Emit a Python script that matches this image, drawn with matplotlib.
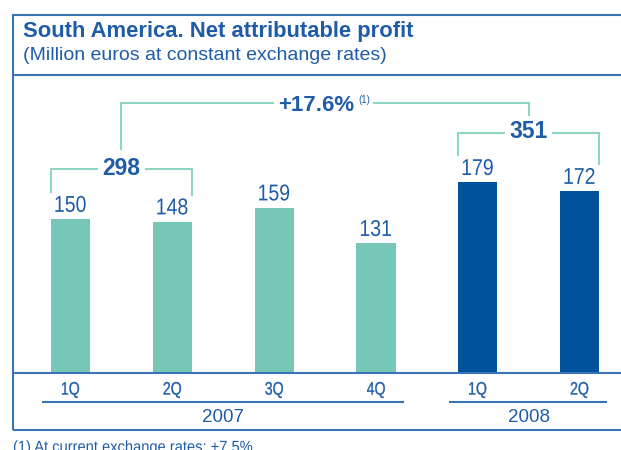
import matplotlib.pyplot as plt
from matplotlib.patches import Rectangle, PathPatch
from matplotlib.lines import Line2D
from matplotlib.textpath import TextPath
from matplotlib.font_manager import FontProperties
from matplotlib.transforms import blended_transform_factory, Affine2D
import numpy as np

# Quarterly net attributable profit, South America (million euros)
quarters = ['1Q', '2Q', '3Q', '4Q', '1Q', '2Q']
years = ['2007', '2007', '2007', '2007', '2008', '2008']
profit = [150, 148, 159, 131, 179, 172]
half_totals = [298, 351]          # 1H07 and 1H08
growth_label = '+17.6%'
footnote = '(1) At current exchange rates: +7.5%.'

teal = '#77c7b8'
navy = '#00529b'
text_blue = '#1f5ca8'
bracket_col = '#8fd5c4'
frame_col = '#3b74b6'

plt.rcParams['font.family'] = ['Liberation Sans', 'DejaVu Sans']

W, H = 621, 450
fig = plt.figure(figsize=(W / 100, H / 100), dpi=100)


def fx(px):
    return px / W


def fy(py):
    return 1 - py / H


def squeezed_text(px, py, s, size, squeeze, ha='center', stroke=0):
    # condensed text: glyph outlines squeezed horizontally, py = middle of the cap height
    size_px = size * 100 / 72
    tp = TextPath((0, 0), s, size=size_px, prop=FontProperties(family='Liberation Sans'))
    ext = tp.get_extents()
    if ha == 'center':
        x0 = -(ext.x0 + ext.x1) / 2 * squeeze
    else:
        x0 = 0
    tr = Affine2D().scale(squeeze, 1).translate(px + x0, py - 0.729 * size_px / 2)
    fig.add_artist(PathPatch(tp, transform=tr, facecolor=text_blue,
                             edgecolor=text_blue if stroke else 'none', lw=stroke))


ax = fig.add_axes([fx(13), fy(373), 1 - fx(13), fy(75) - fy(373)])
x = np.arange(len(profit))
colors = [teal if y == '2007' else navy for y in years]
ax.bar(x, profit, width=0.385, color=colors, zorder=2)
ax.set_xlim(-0.565, -0.565 + (W - 13) / 101.8)
ax.set_ylim(28.7, 263.4)
ax.axis('off')

# value labels
for xi, v in zip(x, profit):
    dx, dy = ax.transData.transform((xi, v))
    squeezed_text(dx, dy + 15.5, str(v), 16.5, 0.85)

# half-year brackets
half_groups = [[0, 1], [4, 5]]
tops = []
hw = 0.385 / 2
for grp, tot in zip(half_groups, half_totals):
    level = max(profit[i] for i in grp) + 39
    xl, xr = grp[0] - hw, grp[-1] + hw
    ax.plot([xl, xl, xr, xr], [profit[grp[0]] + 21, level, level, profit[grp[-1]] + 21],
            color=bracket_col, lw=1.5, solid_joinstyle='miter', zorder=1)
    xm = (grp[0] + grp[-1]) / 2
    ax.text(xm, level + 1, str(tot), ha='center', va='center', fontsize=16.5,
            fontweight='bold', color=text_blue, zorder=3,
            bbox=dict(facecolor='white', edgecolor='none', pad=3))
    tops.append((xm, level))

# growth bracket joining the two half-year totals
g_level = 241
(xa, la), (xb, lb) = tops
ax.plot([xa, xa, xb, xb], [la + 16, g_level, g_level, lb + 10],
        color=bracket_col, lw=1.5, solid_joinstyle='miter', zorder=1)
xg = (xa + xb) / 2
ax.text(xg - 0.09, g_level - 1.5, growth_label, ha='center', va='center', fontsize=16,
        fontweight='bold', color=text_blue, zorder=3,
        bbox=dict(facecolor='white', edgecolor='none', pad=3))
ax.text(xg + 0.39, g_level + 2.5, '(1)', ha='center', va='center', fontsize=7,
        color=text_blue, zorder=3,
        bbox=dict(facecolor='white', edgecolor='none', pad=2))

# category axis: quarters and years below the baseline
tr = blended_transform_factory(ax.transData, fig.transFigure)
for xi, q in zip(x, quarters):
    dx, _ = ax.transData.transform((xi, 0))
    squeezed_text(dx, H - 388, q, 13, 0.78, stroke=0.25)
for yr in ['2007', '2008']:
    idx = [i for i, y in enumerate(years) if y == yr]
    ax.add_line(Line2D([idx[0] - 0.275, idx[-1] + 0.265], [fy(402)] * 2,
                       transform=tr, color=frame_col, lw=1.5, clip_on=False))
    ax.text(np.mean(idx), fy(417), yr, transform=tr, ha='center', va='center',
            fontsize=13.5, color=text_blue, clip_on=False)

# frame, header separator and baseline
fig.patches.append(Rectangle((fx(13), fy(430)), 1.2, fy(15) - fy(430),
                             transform=fig.transFigure, fill=False,
                             edgecolor=frame_col, lw=1.5))
for py in (75, 373):
    fig.lines.append(Line2D([fx(13), 1.0], [fy(py)] * 2, transform=fig.transFigure,
                            color=frame_col, lw=1.5))

fig.text(fx(23), fy(32), 'South America. Net attributable profit', ha='left',
         va='center', fontsize=15.8, fontweight='bold', color=text_blue)
fig.text(fx(23), fy(55), '(Million euros at constant exchange rates)', ha='left',
         va='center', fontsize=14, color=text_blue)
squeezed_text(13, H - 446, footnote, 11.5, 0.92, ha='left')

fig.savefig('out.png', dpi=100)
